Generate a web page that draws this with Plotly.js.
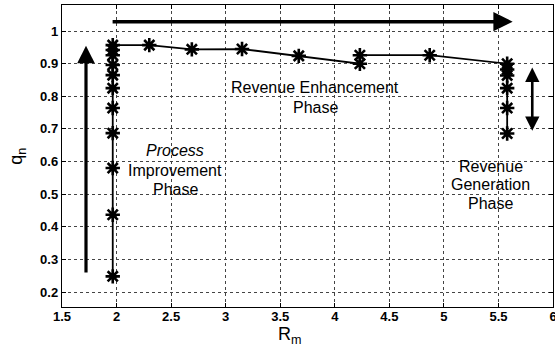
<!DOCTYPE html>
<html>
<head>
<meta charset="utf-8">
<script src="https://cdn.plot.ly/plotly-3.0.1.min.js"></script>
<style>
  html, body { margin: 0; padding: 0; background: #fff; }
  #chart { width: 555px; height: 356px; }
</style>
</head>
<body>
<div id="chart"></div>
<script>
// Operating path in the (R_m, q_n) plane, in the order it is traversed
const processRm = [1.965, 1.965, 1.965, 1.965, 1.965, 1.965, 1.965, 1.965, 1.965, 1.965, 1.965];
const processQn = [0.248, 0.437, 0.580, 0.687, 0.764, 0.825, 0.865, 0.896, 0.926, 0.942, 0.957];

const enhanceRm = [2.30, 2.69, 3.15, 3.67, 4.23, 4.23, 4.87, 5.58];
const enhanceQn = [0.957, 0.944, 0.945, 0.924, 0.900, 0.926, 0.926, 0.900];

const generateRm = [5.58, 5.58, 5.58, 5.58, 5.58];
const generateQn = [0.882, 0.864, 0.825, 0.764, 0.686];

const xTicks = [1.5, 2, 2.5, 3, 3.5, 4, 4.5, 5, 5.5, 6];
const yTicks = [0.2, 0.3, 0.4, 0.5, 0.6, 0.7, 0.8, 0.9, 1];

// Phase labels
const phaseLabels = [
  { text: '<i>Process</i>', x: 2.54, y: 0.635 },
  { text: 'Improvement', x: 2.54, y: 0.572 },
  { text: 'Phase', x: 2.54, y: 0.515 },
  { text: 'Revenue Enhancement', x: 3.82, y: 0.828 },
  { text: 'Phase', x: 3.82, y: 0.767 },
  { text: 'Revenue', x: 5.43, y: 0.586 },
  { text: 'Generation', x: 5.43, y: 0.530 },
  { text: 'Phase', x: 5.43, y: 0.472 }
];

// Direction arrows: tail (x0, y0) -> head (x1, y1)
const arrows = [
  { x0: 1.72, y0: 0.255, x1: 1.72, y1: 0.955, w: 3.2, both: false },
  { x0: 1.95, y0: 1.029, x1: 5.63, y1: 1.029, w: 3.5, both: false },
  { x0: 5.81, y0: 0.690, x1: 5.81, y1: 0.888, w: 2.6, both: true }
];

const pathRm = processRm.concat(enhanceRm, generateRm);
const pathQn = processQn.concat(enhanceQn, generateQn);

const font = 'Liberation Sans, Arial, Helvetica, sans-serif';

const trace = {
  x: pathRm,
  y: pathQn,
  type: 'scatter',
  mode: 'lines+markers',
  line: { color: '#000', width: 1.8 },
  marker: {
    symbol: 'asterisk-open',
    size: 12,
    color: '#000',
    line: { color: '#000', width: 2.6 }
  },
  hoverinfo: 'skip',
  showlegend: false
};

const annotations = [];
phaseLabels.forEach(p => {
  annotations.push({
    x: p.x, y: p.y, xref: 'x', yref: 'y',
    text: p.text, showarrow: false,
    xanchor: 'center', yanchor: 'middle',
    font: { family: font, size: 16, color: '#000' }
  });
});
arrows.forEach(a => {
  const ann = {
    x: a.x1, y: a.y1, ax: a.x0, ay: a.y0,
    xref: 'x', yref: 'y', axref: 'x', ayref: 'y',
    text: '', showarrow: true,
    arrowhead: 2, arrowsize: 1.1, arrowwidth: a.w, arrowcolor: '#000',
    standoff: 0, startstandoff: 0
  };
  if (a.both) {
    ann.arrowside = 'end+start';
    ann.startarrowhead = 2;
    ann.startarrowsize = 1.1;
  }
  annotations.push(ann);
});

// Axis titles
annotations.push({
  xref: 'paper', yref: 'paper', x: 0.464, y: -0.095,
  text: 'R<sub>m</sub>', showarrow: false,
  xanchor: 'center', yanchor: 'middle',
  font: { family: font, size: 18, color: '#000' }
});
annotations.push({
  xref: 'paper', yref: 'paper', x: -0.092, y: 0.50,
  text: 'q<sub>n</sub>', showarrow: false, textangle: -90,
  xanchor: 'center', yanchor: 'middle',
  font: { family: font, size: 18, color: '#000' }
});

const axisCommon = {
  showline: true, linecolor: '#000', linewidth: 1.2, mirror: 'ticks',
  ticks: 'inside', ticklen: 4, tickwidth: 1, tickcolor: '#000',
  showgrid: true, gridcolor: '#444', gridwidth: 1, griddash: 'dot',
  zeroline: false, ticklabeloverflow: 'allow',
  tickfont: { family: font, size: 13, color: '#000', weight: 'bold' }
};

const layout = {
  width: 555, height: 356,
  margin: { l: 62, r: 2, t: 5, b: 49 },
  paper_bgcolor: '#fff', plot_bgcolor: '#fff',
  xaxis: Object.assign({}, axisCommon, {
    range: [1.5, 6], tickvals: xTicks, ticktext: xTicks.map(String),
    ticklabelstandoff: -3
  }),
  yaxis: Object.assign({}, axisCommon, {
    range: [0.154, 1.08], tickvals: yTicks, ticktext: yTicks.map(String)
  }),
  annotations: annotations
};

Plotly.newPlot('chart', [trace], layout, { displayModeBar: false, staticPlot: true });
</script>
</body>
</html>
